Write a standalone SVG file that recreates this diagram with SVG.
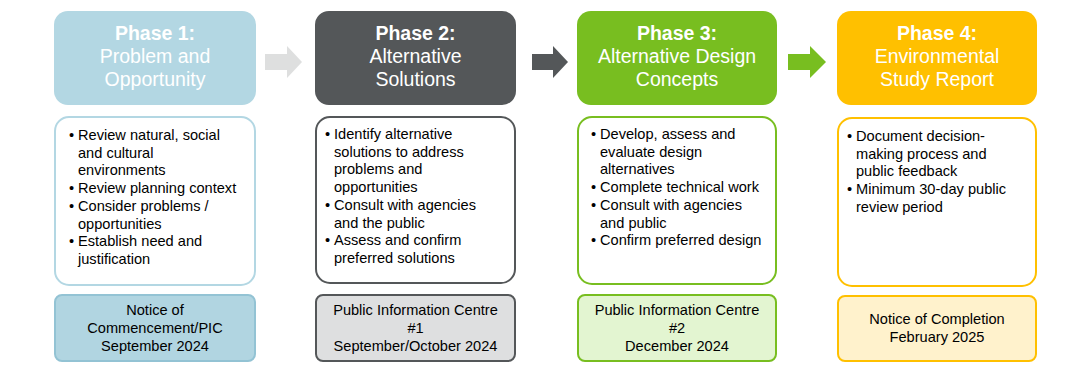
<svg xmlns="http://www.w3.org/2000/svg" width="1083" height="376" viewBox="0 0 1083 376">
<style>
text{font-family:"Liberation Sans",Arial,sans-serif;}
.h{font-size:19.5px;fill:#ffffff;text-anchor:middle;}
.hb{font-weight:bold;}
.b{font-size:14.6px;fill:#000000;}
.c{font-size:14.6px;fill:#000000;text-anchor:middle;}
.body{fill:#ffffff;stroke-width:2;}
.foot{stroke-width:2;}
</style>
<rect width="1083" height="376" fill="#ffffff"/>
<g id="connectors">
<polygon points="265,54 287,54 287,46 302,62 287,78 287,70 265,70" fill="#dedfdf"/>
<polygon points="532,54 553,54 553,46 568,62 553,78 553,70 532,70" fill="#545759"/>
<polygon points="788,54 810,54 810,46 826,62 810,78 810,70 788,70" fill="#78be20"/>
</g>
<g id="phase1">
<rect x="54" y="11" width="202" height="94" rx="14" fill="#b3d7e3"/>
<text class="h" x="155" y="40"><tspan class="hb">Phase 1:</tspan><tspan x="155" y="63">Problem and</tspan><tspan x="155" y="86">Opportunity</tspan></text>
</g>
<g id="phase1-body">
<rect class="body" x="55" y="117" width="200" height="168" rx="14" stroke="#b3d7e3"/>
<text class="b" x="69" y="140">•</text>
<text class="b" x="78" y="140">Review natural, social<tspan x="78" y="157.7">and cultural</tspan><tspan x="78" y="175.4">environments</tspan></text>
<text class="b" x="69" y="193.1">•</text>
<text class="b" x="78" y="193.1">Review planning context</text>
<text class="b" x="69" y="210.8">•</text>
<text class="b" x="78" y="210.8">Consider problems /<tspan x="78" y="228.5">opportunities</tspan></text>
<text class="b" x="69" y="246.2">•</text>
<text class="b" x="78" y="246.2">Establish need and<tspan x="78" y="263.9">justification</tspan></text>
</g>
<g id="phase1-milestone">
<rect class="foot" x="55" y="295" width="200" height="66" rx="7" fill="#b1d5e1" stroke="#93c3d4"/>
<text class="c" x="155" y="315">Notice of<tspan x="155" y="333">Commencement/PIC</tspan><tspan x="155" y="351">September 2024</tspan></text>
</g>
<g id="phase2">
<rect x="315" y="11" width="201" height="94" rx="14" fill="#545759"/>
<text class="h" x="415.5" y="40"><tspan class="hb">Phase 2:</tspan><tspan x="415.5" y="63">Alternative</tspan><tspan x="415.5" y="86">Solutions</tspan></text>
</g>
<g id="phase2-body">
<rect class="body" x="316" y="117" width="199" height="166" rx="14" stroke="#545759"/>
<text class="b" x="325" y="139">•</text>
<text class="b" x="334" y="139">Identify alternative<tspan x="334" y="156.7">solutions to address</tspan><tspan x="334" y="174.4">problems and</tspan><tspan x="334" y="192.1">opportunities</tspan></text>
<text class="b" x="325" y="209.8">•</text>
<text class="b" x="334" y="209.8">Consult with agencies<tspan x="334" y="227.5">and the public</tspan></text>
<text class="b" x="325" y="245.2">•</text>
<text class="b" x="334" y="245.2">Assess and confirm<tspan x="334" y="262.9">preferred solutions</tspan></text>
</g>
<g id="phase2-milestone">
<rect class="foot" x="316" y="295" width="199" height="66" rx="7" fill="#dedfe0" stroke="#545759"/>
<text class="c" x="415.5" y="315">Public Information Centre<tspan x="415.5" y="333">#1</tspan><tspan x="415.5" y="351">September/October 2024</tspan></text>
</g>
<g id="phase3">
<rect x="577" y="11" width="200" height="94" rx="14" fill="#78be20"/>
<text class="h" x="677" y="40"><tspan class="hb">Phase 3:</tspan><tspan x="677" y="63">Alternative Design</tspan><tspan x="677" y="86">Concepts</tspan></text>
</g>
<g id="phase3-body">
<rect class="body" x="578" y="117" width="198" height="167" rx="14" stroke="#78be20"/>
<text class="b" x="591" y="139">•</text>
<text class="b" x="600" y="139">Develop, assess and<tspan x="600" y="157">evaluate design</tspan><tspan x="600" y="174.4">alternatives</tspan></text>
<text class="b" x="591" y="192.1">•</text>
<text class="b" x="600" y="192.1">Complete technical work</text>
<text class="b" x="591" y="209.8">•</text>
<text class="b" x="600" y="209.8">Consult with agencies<tspan x="600" y="227.5">and public</tspan></text>
<text class="b" x="591" y="245.2">•</text>
<text class="b" x="600" y="245.2">Confirm preferred design</text>
</g>
<g id="phase3-milestone">
<rect class="foot" x="578" y="295" width="198" height="66" rx="7" fill="#e3f5d1" stroke="#78be20"/>
<text class="c" x="677" y="315">Public Information Centre<tspan x="677" y="333">#2</tspan><tspan x="677" y="351">December 2024</tspan></text>
</g>
<g id="phase4">
<rect x="837" y="11" width="200" height="94" rx="14" fill="#ffc000"/>
<text class="h" x="937" y="40"><tspan class="hb">Phase 4:</tspan><tspan x="937" y="63">Environmental</tspan><tspan x="937" y="86">Study Report</tspan></text>
</g>
<g id="phase4-body">
<rect class="body" x="838" y="118" width="198" height="168" rx="14" stroke="#ffc000"/>
<text class="b" x="847" y="141">•</text>
<text class="b" x="856" y="141">Document decision-<tspan x="856" y="158.7">making process and</tspan><tspan x="856" y="176.4">public feedback</tspan></text>
<text class="b" x="847" y="194.1">•</text>
<text class="b" x="856" y="194.1">Minimum 30-day public<tspan x="856" y="211.8">review period</tspan></text>
</g>
<g id="phase4-milestone">
<rect class="foot" x="838" y="296" width="198" height="65" rx="7" fill="#fff2cc" stroke="#ffc000"/>
<text class="c" x="937" y="324">Notice of Completion<tspan x="937" y="342">February 2025</tspan></text>
</g>
</svg>
